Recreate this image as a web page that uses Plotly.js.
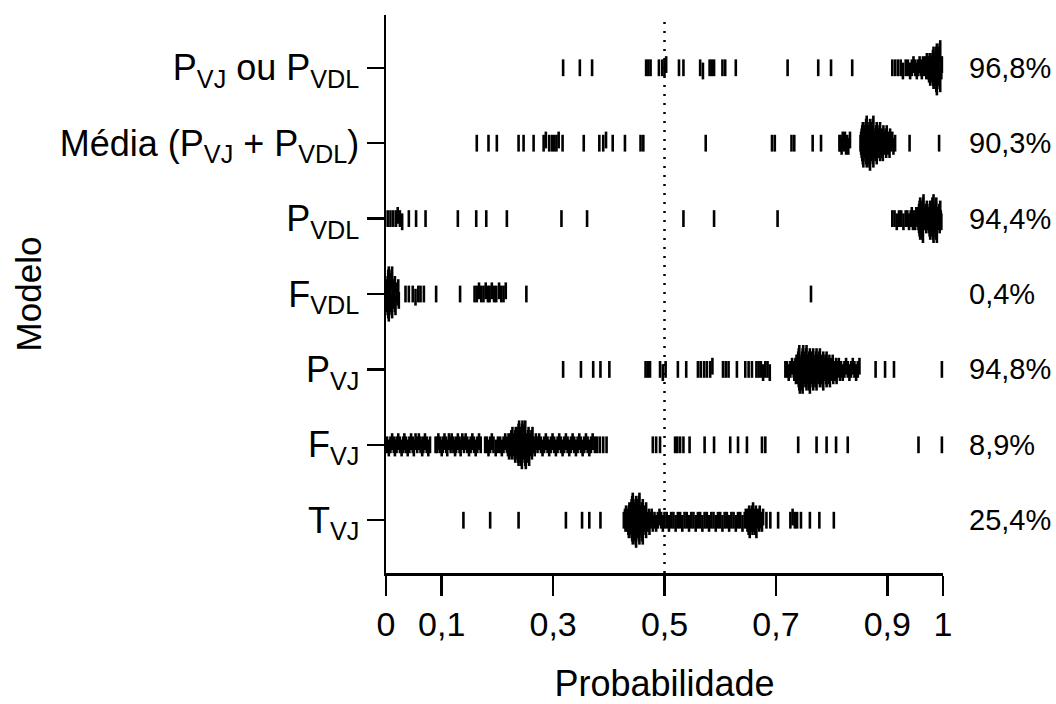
<!DOCTYPE html>
<html>
<head>
<meta charset="utf-8">
<script src="https://cdn.plot.ly/plotly-3.0.1.min.js"></script>
<style>html,body{margin:0;padding:0;background:#fff;}#chart{width:1056px;height:704px;}</style>
</head>
<body>
<div id="chart"></div>
<script>
// Category labels (bottom to top)
const categories = [
  "T<sub>VJ</sub>",
  "F<sub>VJ</sub>",
  "P<sub>VJ</sub>",
  "F<sub>VDL</sub>",
  "P<sub>VDL</sub>",
  "Média (P<sub>VJ</sub> + P<sub>VDL</sub>)",
  "P<sub>VJ</sub> ou P<sub>VDL</sub>"
];
const percentLabels = ["25,4%", "8,9%", "94,8%", "0,4%", "94,4%", "90,3%", "96,8%"];
const xTickVals = [0, 0.1, 0.3, 0.5, 0.7, 0.9, 1];
const xTickText = ["0", "0,1", "0,3", "0,5", "0,7", "0,9", "1"];

// Probabilities per model
const tVJ = [0.139, 0.187, 0.238, 0.323, 0.352, 0.365, 0.385,
  0.427, 0.429, 0.430, 0.431,
  0.432, 0.433, 0.434, 0.435, 0.436, 0.436, 0.437,
  0.438, 0.438, 0.439, 0.439, 0.440, 0.440, 0.441, 0.441, 0.442, 0.442, 0.443, 0.443,
  0.444, 0.444, 0.445, 0.445, 0.446, 0.446, 0.447, 0.447, 0.448, 0.448, 0.449, 0.449,
  0.450, 0.450, 0.451, 0.451, 0.452, 0.452, 0.453, 0.453, 0.454, 0.454, 0.455, 0.455,
  0.456, 0.456, 0.457, 0.457, 0.458, 0.459, 0.459, 0.460, 0.461, 0.461,
  0.462, 0.463, 0.464, 0.465, 0.466, 0.467, 0.467,
  0.469, 0.470, 0.472, 0.473, 0.475, 0.477, 0.479,
  0.482, 0.485, 0.488, 0.491, 0.494, 0.497, 0.500,
  0.504, 0.508, 0.512, 0.516, 0.520, 0.524, 0.528, 0.532, 0.536, 0.540, 0.544, 0.548,
  0.552, 0.556, 0.560, 0.564, 0.568, 0.572, 0.576, 0.580, 0.584, 0.588, 0.592, 0.596,
  0.600, 0.604, 0.608, 0.612, 0.616, 0.620, 0.624, 0.628, 0.632, 0.636, 0.640, 0.644,
  0.646, 0.648, 0.649, 0.650, 0.651, 0.652, 0.653, 0.654, 0.655, 0.656, 0.657, 0.658, 0.659,
  0.660, 0.661, 0.662, 0.663, 0.664, 0.665, 0.667, 0.668, 0.670, 0.671, 0.673, 0.675, 0.677,
  0.683, 0.690, 0.704, 0.726, 0.730, 0.734, 0.738, 0.745, 0.761, 0.778, 0.804];

const fVJ = [0.002, 0.005, 0.008, 0.011, 0.014, 0.016, 0.019, 0.022, 0.025, 0.028, 0.031, 0.033,
  0.036, 0.039, 0.042, 0.045, 0.048, 0.050, 0.053, 0.056, 0.059, 0.062, 0.065, 0.067, 0.070,
  0.073, 0.076, 0.079,
  0.089, 0.092, 0.094, 0.097, 0.100, 0.102, 0.105, 0.108, 0.110, 0.113, 0.116, 0.118, 0.121,
  0.124, 0.126, 0.129, 0.132, 0.134, 0.137, 0.140, 0.143, 0.146, 0.149, 0.152, 0.155, 0.158,
  0.161, 0.164, 0.167, 0.170,
  0.178, 0.181, 0.184, 0.187, 0.190, 0.193, 0.197, 0.201, 0.205, 0.208, 0.211, 0.214, 0.217,
  0.219, 0.220, 0.221,
  0.222, 0.223, 0.224, 0.225, 0.226, 0.227,
  0.228, 0.229, 0.230, 0.231, 0.232, 0.232, 0.233,
  0.234, 0.235, 0.235, 0.236, 0.236, 0.237, 0.237, 0.238, 0.238, 0.239,
  0.240, 0.240, 0.241, 0.241, 0.242, 0.242, 0.243, 0.243, 0.244, 0.244, 0.245,
  0.246, 0.246, 0.247, 0.247, 0.248, 0.248, 0.249, 0.249, 0.250, 0.250, 0.251,
  0.252, 0.253, 0.253, 0.254, 0.255, 0.255, 0.256, 0.257,
  0.258, 0.259, 0.260, 0.261, 0.262, 0.263,
  0.265, 0.267, 0.269,
  0.272, 0.275, 0.278, 0.281, 0.284, 0.287, 0.290, 0.293, 0.296, 0.299, 0.302, 0.305, 0.308,
  0.311, 0.314, 0.317, 0.320, 0.323, 0.326, 0.329, 0.332, 0.335, 0.338, 0.341, 0.344, 0.347,
  0.350, 0.353, 0.356, 0.359, 0.362, 0.365, 0.368, 0.371, 0.375, 0.379, 0.384, 0.390, 0.396,
  0.479, 0.485, 0.492, 0.519, 0.523, 0.528, 0.534, 0.545, 0.572, 0.589, 0.618, 0.632, 0.648,
  0.675, 0.681, 0.740, 0.773, 0.791, 0.808, 0.829, 0.956, 0.998];

const pVJ = [0.318, 0.350, 0.372, 0.385, 0.401, 0.466, 0.470, 0.474, 0.492, 0.497, 0.502,
  0.524, 0.539, 0.560, 0.565, 0.571, 0.576, 0.582, 0.586, 0.605, 0.610, 0.615, 0.630, 0.645,
  0.651, 0.657, 0.665, 0.669, 0.673, 0.677, 0.681, 0.685, 0.689, 0.717, 0.720, 0.723, 0.726,
  0.729, 0.732,
  0.733, 0.735, 0.736, 0.737,
  0.738, 0.738, 0.739, 0.739, 0.740, 0.740, 0.741, 0.741, 0.742, 0.742, 0.743,
  0.744, 0.744, 0.745, 0.745, 0.746, 0.746, 0.747, 0.747, 0.748, 0.748, 0.749,
  0.750, 0.750, 0.751, 0.751, 0.752, 0.753, 0.753, 0.754, 0.755, 0.755,
  0.756, 0.756, 0.757, 0.758, 0.758, 0.759, 0.760, 0.760, 0.761, 0.761,
  0.762, 0.763, 0.763, 0.764, 0.765, 0.765, 0.766, 0.767, 0.767,
  0.768, 0.769, 0.769, 0.770, 0.771, 0.771, 0.772, 0.773, 0.773,
  0.774, 0.775, 0.776, 0.776, 0.777, 0.778, 0.779, 0.779,
  0.780, 0.781, 0.782, 0.782, 0.783, 0.784, 0.785, 0.785,
  0.786, 0.787, 0.788, 0.789, 0.790, 0.791, 0.791,
  0.792, 0.793, 0.794, 0.795, 0.796, 0.797,
  0.798, 0.799, 0.801, 0.802, 0.803,
  0.805, 0.806, 0.808, 0.809, 0.811, 0.813, 0.815,
  0.817, 0.820, 0.823, 0.826, 0.829, 0.832, 0.835, 0.838, 0.841, 0.844, 0.847, 0.850,
  0.879, 0.896, 0.912, 0.998];

const fVDL = [0.000, 0.001, 0.001, 0.002, 0.002, 0.002, 0.003, 0.003, 0.004, 0.004, 0.004, 0.005, 0.005,
  0.006, 0.006, 0.007, 0.007, 0.008, 0.008, 0.009, 0.009, 0.010, 0.010, 0.011, 0.011,
  0.012, 0.013, 0.013, 0.014, 0.015, 0.016, 0.016, 0.017,
  0.019, 0.020, 0.021, 0.022, 0.023,
  0.035, 0.041, 0.048, 0.053, 0.058, 0.062, 0.068, 0.090, 0.133,
  0.159, 0.163, 0.167, 0.171, 0.175, 0.179, 0.183, 0.186, 0.190, 0.194, 0.198, 0.203, 0.207,
  0.211, 0.215, 0.252, 0.763];

const pVDL = [0.003, 0.008, 0.013, 0.018, 0.021, 0.025, 0.029, 0.041, 0.054, 0.071, 0.129,
  0.162, 0.180, 0.217, 0.315, 0.361, 0.534, 0.589, 0.703,
  0.909, 0.913, 0.917, 0.921, 0.925, 0.929, 0.933, 0.936, 0.939, 0.942, 0.944, 0.946, 0.948,
  0.950, 0.952, 0.954,
  0.955, 0.956, 0.957, 0.957, 0.958, 0.958, 0.959, 0.959,
  0.960, 0.960, 0.961, 0.961, 0.962, 0.962, 0.963, 0.963, 0.964, 0.964, 0.965,
  0.966, 0.967, 0.968, 0.969, 0.970, 0.971,
  0.972, 0.973, 0.974, 0.975, 0.976, 0.976, 0.977, 0.977,
  0.978, 0.978, 0.979, 0.979, 0.980, 0.980, 0.981, 0.981, 0.982, 0.983, 0.983,
  0.984, 0.985, 0.985, 0.986, 0.986, 0.987, 0.987, 0.988, 0.988, 0.989,
  0.990, 0.991, 0.992, 0.993, 0.994, 0.995, 0.996, 0.997];

const media = [0.163, 0.184, 0.199, 0.238, 0.247, 0.265, 0.283, 0.287, 0.293, 0.298, 0.302,
  0.306, 0.310, 0.317, 0.355, 0.383, 0.390, 0.395, 0.407, 0.429, 0.457, 0.462, 0.574, 0.693,
  0.698, 0.728, 0.733, 0.766, 0.781,
  0.814, 0.816, 0.818, 0.820, 0.822, 0.824, 0.826, 0.828, 0.830, 0.833,
  0.852, 0.853, 0.853, 0.854, 0.854, 0.855, 0.855, 0.856, 0.856, 0.857,
  0.858, 0.858, 0.859, 0.859, 0.860, 0.860, 0.861, 0.861, 0.862, 0.862, 0.863, 0.863,
  0.864, 0.864, 0.865, 0.865, 0.866, 0.866, 0.867, 0.867, 0.868, 0.868, 0.869, 0.869,
  0.870, 0.870, 0.871, 0.871, 0.872, 0.872, 0.873, 0.873, 0.874, 0.874, 0.875, 0.875,
  0.876, 0.877, 0.877, 0.878, 0.879, 0.879, 0.880, 0.881, 0.881,
  0.882, 0.883, 0.884, 0.885, 0.885, 0.886, 0.887, 0.887,
  0.888, 0.889, 0.890, 0.890, 0.891, 0.892, 0.893,
  0.894, 0.895, 0.896, 0.897, 0.898, 0.899,
  0.900, 0.901, 0.902, 0.904, 0.905,
  0.907, 0.909, 0.911, 0.914, 0.940, 0.993];

const pVJouPVDL = [0.318, 0.348, 0.370, 0.467, 0.471, 0.475, 0.490, 0.496, 0.500, 0.503, 0.526,
  0.534, 0.564, 0.569, 0.581, 0.585, 0.589, 0.604, 0.609, 0.628, 0.721, 0.776, 0.799, 0.837,
  0.909, 0.914, 0.919, 0.924, 0.928, 0.933, 0.937, 0.941, 0.944, 0.947, 0.950, 0.953, 0.955,
  0.958, 0.960, 0.962, 0.964, 0.966, 0.968, 0.970, 0.971,
  0.972, 0.973, 0.974, 0.975, 0.976, 0.977,
  0.978, 0.979, 0.980, 0.981, 0.981, 0.982, 0.982, 0.983, 0.983,
  0.984, 0.984, 0.985, 0.985, 0.986, 0.986, 0.987, 0.987, 0.988, 0.988, 0.989, 0.989,
  0.990, 0.990, 0.991, 0.991, 0.992, 0.992, 0.993, 0.993, 0.994, 0.994, 0.995, 0.995,
  0.996, 0.997, 0.998];

const seriesByRow = [tVJ, fVJ, pVJ, fVDL, pVDL, media, pVJouPVDL];

// ---- layout constants ----
const W = 1056, H = 704;
const M = {l: 386, r: 113, t: 15, b: 131};
const Y_RANGE = [-0.7, 6.7];
const rowPx = (H - M.t - M.b) / (Y_RANGE[1] - Y_RANGE[0]);
const STEP = 3.2 / rowPx;   // vertical spread step (px -> data units)
const BIN = 0.006;           // swarm bin width in x units

function swarm(vals, row) {
  const xs = vals.slice().sort((a, b) => a - b);
  const counts = {};
  const ys = xs.map(v => {
    const b = Math.floor(v / BIN + 1e-9);
    const k = (counts[b] === undefined) ? 0 : counts[b] + 1;
    counts[b] = k;
    const mag = Math.ceil(k / 2);
    const sign = ((k % 2) ? 1 : -1) * ((b % 2) ? 1 : -1);
    return row + sign * mag * STEP;
  });
  return {x: xs, y: ys};
}

const FONT = 'Arial, "Liberation Sans", sans-serif';

const traces = seriesByRow.map((vals, i) => {
  const s = swarm(vals, i);
  return {
    type: 'scatter', mode: 'markers',
    x: s.x, y: s.y,
    cliponaxis: false,
    showlegend: false,
    hoverinfo: 'x',
    marker: {symbol: 'line-ns-open', size: 12, color: '#000',
             line: {color: '#000', width: 2.6}}
  };
});

const annotations = percentLabels.map((t, i) => ({
  text: t, xref: 'paper', yref: 'y', x: 1.043, y: i,
  xanchor: 'left', yanchor: 'middle', showarrow: false,
  font: {family: FONT, size: 29, color: '#000'}
}));

const layout = {
  width: W, height: H,
  margin: M,
  paper_bgcolor: '#fff', plot_bgcolor: '#fff',
  font: {family: FONT, color: '#000'},
  xaxis: {
    range: [0, 1], showgrid: false, zeroline: false,
    showline: true, linecolor: '#000', linewidth: 2.5,
    ticks: 'outside', ticklen: 20, tickwidth: 2.5, tickcolor: '#000',
    tickmode: 'array', tickvals: xTickVals, ticktext: xTickText,
    tickfont: {family: FONT, size: 34, color: '#000'},
    title: {text: 'Probabilidade', font: {family: FONT, size: 36, color: '#000'}, standoff: 30}
  },
  yaxis: {
    range: Y_RANGE, showgrid: false, zeroline: false,
    showline: true, linecolor: '#000', linewidth: 2.5,
    ticks: 'outside', ticklen: 17, tickwidth: 2.5, tickcolor: '#000',
    tickmode: 'array', tickvals: categories.map((c, i) => i), ticktext: categories,
    tickfont: {family: FONT, size: 36, color: '#000'},
    title: {text: 'Modelo', font: {family: FONT, size: 35, color: '#000'}, standoff: 8}
  },
  shapes: [{
    type: 'line', xref: 'x', yref: 'paper', x0: 0.5, x1: 0.5, y0: 0, y1: 1,
    line: {color: '#000', width: 2.5, dash: '2px,7px'}, layer: 'below'
  }],
  annotations: annotations
};

Plotly.newPlot('chart', traces, layout, {displayModeBar: false, staticPlot: true});
</script>
</body>
</html>
